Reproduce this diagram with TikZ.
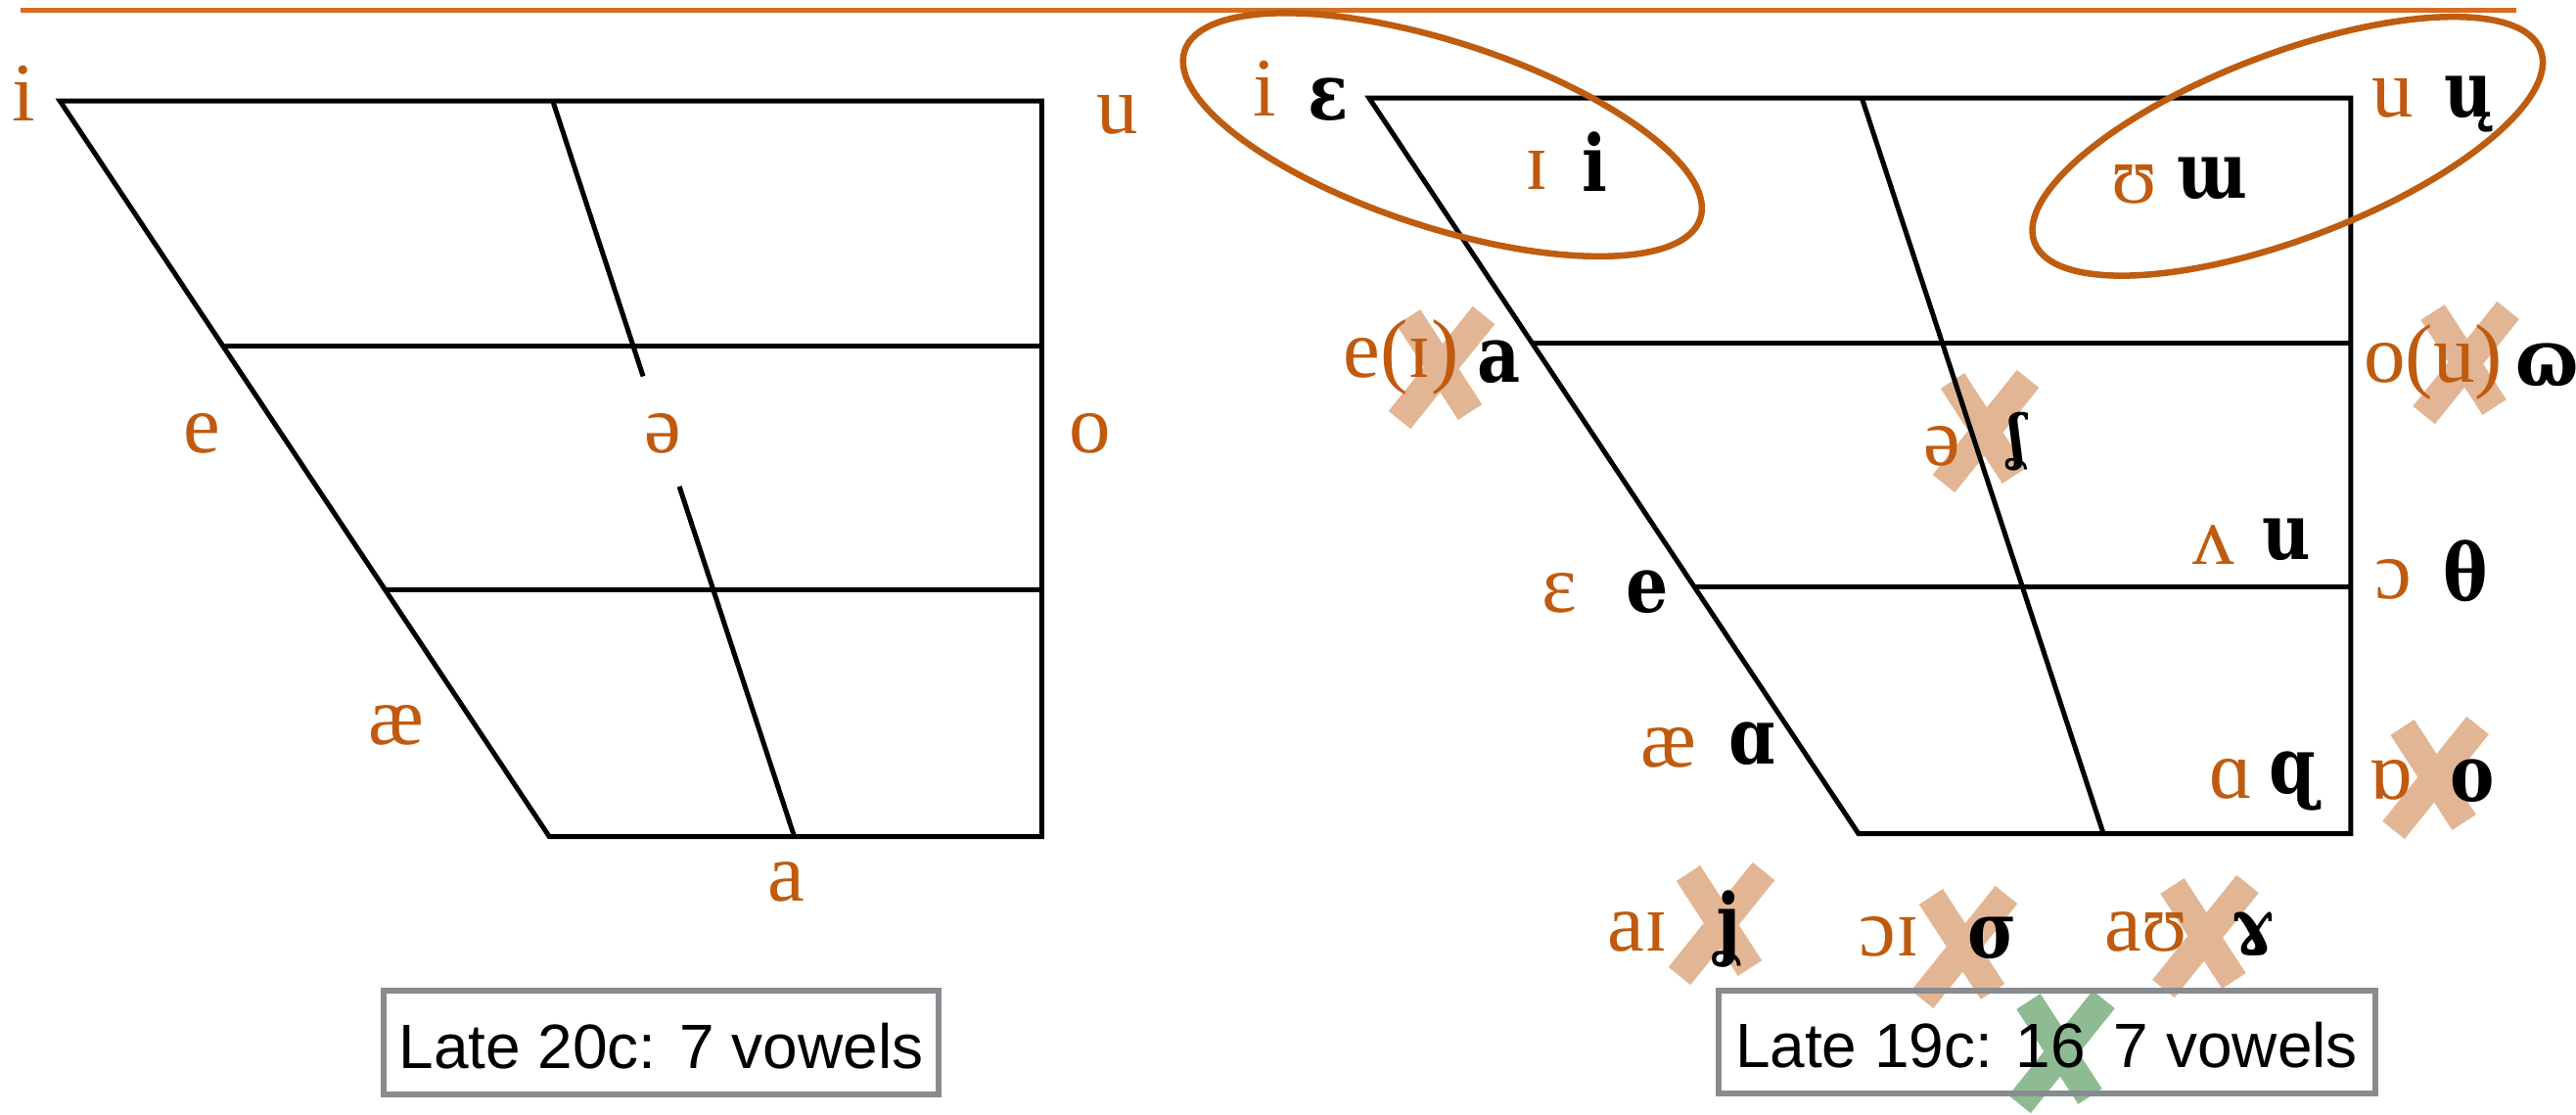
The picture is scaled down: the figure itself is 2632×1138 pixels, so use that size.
\documentclass[tikz,border=0pt]{standalone}
\usepackage{fontspec}
\newfontfamily\orf{Liberation Serif}
\newfontfamily\bkf{DejaVu Serif}[FakeStretch=0.85]
\newfontfamily\sansf{Liberation Sans}
\definecolor{ipaor}{RGB}{192,90,14}
\definecolor{ovalor}{RGB}{190,92,16}
\definecolor{ruleor}{RGB}{216,108,32}
\definecolor{xtan}{RGB}{226,182,148}
\definecolor{xgreen}{RGB}{143,187,147}
\definecolor{boxgray}{RGB}{136,139,143}
\tikzset{
  chartline/.style={line width=5pt, line join=miter},
  ol/.style={text=ipaor, font=\orf\fontsize{85}{90}\selectfont, inner sep=0pt, anchor=base},
  bl/.style={text=black, font=\bkf\bfseries\fontsize{80}{90}\selectfont, inner sep=0pt, anchor=base},
  xstroke/.style={line width=29pt, line cap=butt, draw=xtan},
  vbox/.style={draw=boxgray, line width=6pt, font=\sansf\fontsize{64}{70}\selectfont, text height=52pt, text depth=0pt, inner sep=0pt},
  oval/.style={draw=ovalor, line width=6.5pt},
}
\newcommand{\xcross}[2]{\draw[xstroke,#2,shift={(#1)}] (-33,-50) -- (30,47) (44,-52) -- (-42,55);}
\newcommand{\vowelchart}[2]{%
  \begin{scope}[shift={(#1)}]
    \coordinate (#2TL) at (0,0);
    \coordinate (#2TR) at (1003,0);
    \coordinate (#2BR) at (1003,751.5);
    \coordinate (#2BL) at (500,751.5);
    \coordinate (#2MT) at (503.5,0);
    \coordinate (#2MB) at (750.3,751.5);
    \coordinate (#2HaL) at (166.7,250.5);
    \coordinate (#2HaR) at (1003,250.5);
    \coordinate (#2HbL) at (332.3,499.5);
    \coordinate (#2HbR) at (1003,499.5);
    \coordinate (#2Ga) at (595.8,281.2);
    \coordinate (#2Gb) at (632.8,393.7);
  \end{scope}
  \draw[chartline] (#2TL) -- (#2TR) -- (#2BR) -- (#2BL) -- cycle;
  \draw[chartline] (#2HaL) -- (#2HaR);
  \draw[chartline] (#2HbL) -- (#2HbR);
}
\begin{document}
\begin{tikzpicture}[x=1pt,y=-1pt]
\useasboundingbox (0,0) rectangle (2632,1138);
% top rule
\draw[draw=ruleor, line width=5pt] (20.7,10.3) -- (2570.6,10.3);

% crosses (behind)
\xcross{1472,374}{}
\xcross{2028,439}{}
\xcross{2518.6,369}{}
\xcross{2487.6,793}{}
\xcross{1758,942}{}
\xcross{2006,966}{}
\xcross{2252.5,955}{}
\xcross{2105.5,1073}{draw=xgreen}

% charts
\vowelchart{61.3,103.2}{L}
\draw[chartline] (LMT) -- (LGa);
\draw[chartline] (LGb) -- (LMB);
\vowelchart{1398.8,100}{R}
\draw[chartline] (RMT) -- (RMB);

% ovals
\draw[oval, rotate around={-18:(1473.8,137.6)}] (1473.8,137.6) ellipse [x radius=277pt, y radius=94.7pt];
\draw[oval, rotate around={20.8:(2337.3,149.4)}] (2337.3,149.4) ellipse [x radius=276.6pt, y radius=94.7pt];

% boxes
\node[vbox, minimum width=567pt, minimum height=106pt] (box20) at (675.5,1065) {Late 20c: 7 vowels};
\node[vbox, minimum width=671pt, minimum height=105pt] (box19) at (2091,1064) {Late 19c: 16\hspace{0.45em}7 vowels};

% left chart labels
\node[ol] (Li) at (24.5,123) {i};
\node[ol] (Lu) at (1142,136) {u};
\node[ol] (Le) at (206,462) {e};
\node[ol] (Lschwa) at (677,462) {ə};
\node[ol] (Lo) at (1114,462) {o};
\node[ol] (Lae) at (404.5,760) {æ};
\node[ol] (La) at (803.5,920) {a};

% right chart labels
\node[ol] (Ri) at (1292.5,118) {i};
\node[bl] (Rep) at (1357.5,122) {ɛ};
\node[ol] (Rsi) at (1570,193) {ɪ};
\node[bl] (Rib) at (1629,195) {i};
\node[ol] (Ru) at (2445,119) {u};
\node[bl] (Rub) at (2522,119) {ų};
\node[ol] (Rup) at (2180.5,207) {ʊ};
\node[bl] (Rwb) at (2260,202) {ɯ};
\node[ol] (Rei) at (1431.5,385) {e(ɪ)};
\node[bl] (Rab) at (1532,390) {a};
\node[ol] (Rou) at (2486,390.7) {o(u)};
\node[bl] (Rom) at (2602.5,393) {ɷ};
\node[ol] (Rschwa) at (1984,475) {ə};
\node[bl, font=\bkf\bfseries\fontsize{61}{64}\selectfont] (Resh) at (2061.5,467) {ʆ};
\node[ol] (Rwedge) at (2262,576.7) {ʌ};
\node[bl] (Rub2) at (2336.5,571.7) {u};
\node[ol] (Rep2) at (1593.5,625) {ɛ};
\node[bl] (Reb) at (1683,625) {e};
\node[ol] (Ropen) at (2445,611.7) {ɔ};
\node[bl] (Rth) at (2519.5,613) {θ};
\node[ol] (Rae) at (1704.5,783) {æ};
\node[bl] (Ralb) at (1790,780) {ɑ};
\node[ol] (Ral) at (2280,815) {ɑ};
\node[bl] (Rq) at (2342,810) {ɋ};
\node[ol] (Rturn) at (2443,816.7) {ɒ};
\node[bl] (Rob) at (2526,818) {o};

% diphthongs
\node[ol] (Dai) at (1673,971.7) {aɪ};
\node[bl] (Dj) at (1766,970) {ʝ};
\node[ol] (Doi) at (1930,976.7) {ɔɪ};
\node[bl] (Ds) at (2036,978) {σ};
\node[ol] (Dau) at (2192.5,971.7) {aʊ};
\node[bl] (Dr) at (2301.7,973) {ɤ};
\end{tikzpicture}
\end{document}
